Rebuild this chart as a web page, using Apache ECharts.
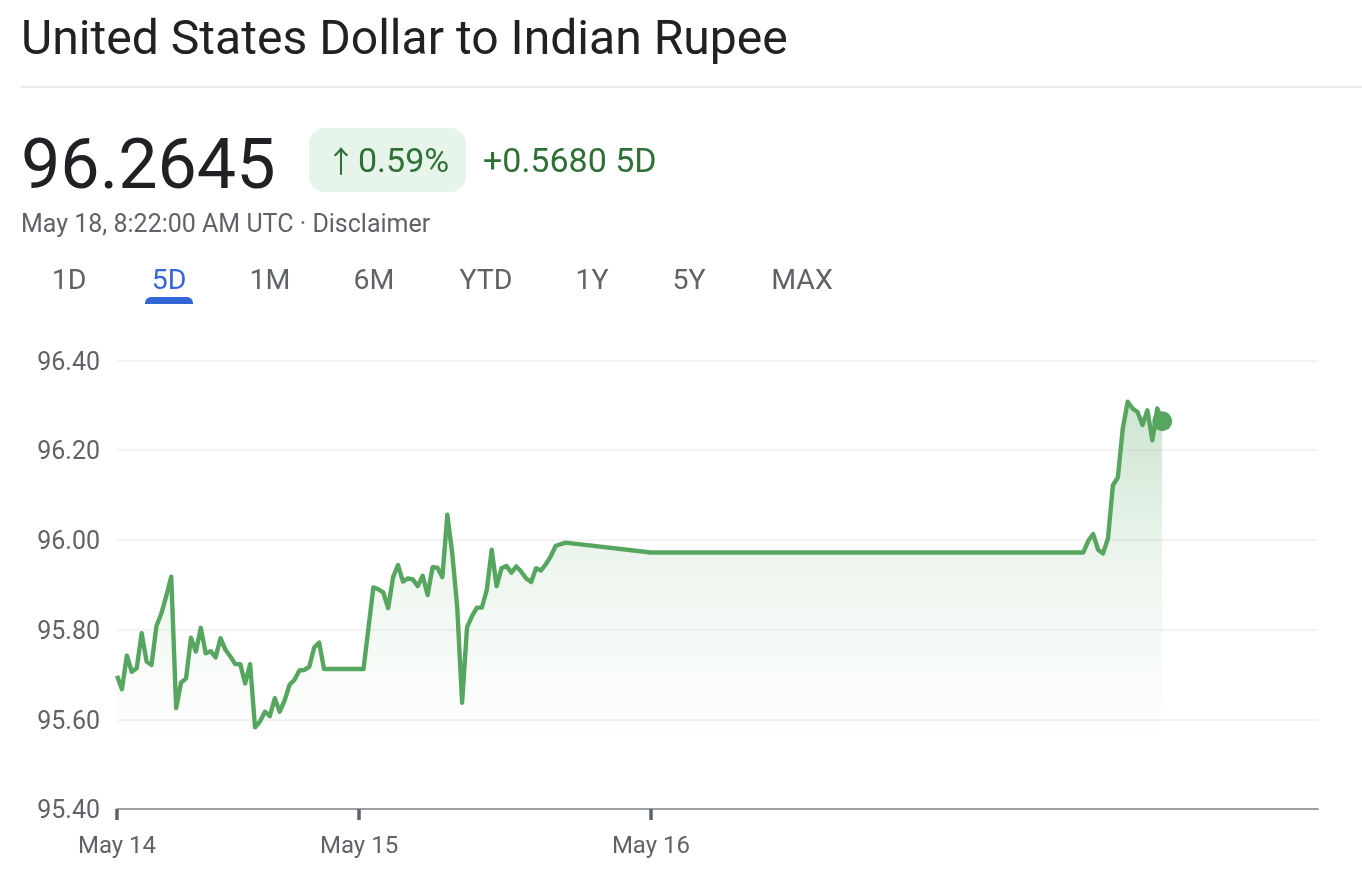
<!DOCTYPE html>
<html><head><meta charset="utf-8">
<script src="https://cdn.jsdelivr.net/npm/echarts@6/dist/echarts.min.js"></script>
<style>html,body{margin:0;padding:0;background:#fff}#c{width:1362px;height:882px}</style>
</head><body><div id="c"></div>
<script>
// x positions are sample numbers (markets closed between May 16 and the last run)
const sampleIndex = [0,1,2,3,4,5,6,7,8,9,10,11,12,13,14,15,16,17,18,19,20,21,22,23,24,25,26,27,28,29,30,31,32,33,34,35,36,37,38,39,40,41,42,50,51,52,53,54,55,56,57,58,59,60,61,62,63,64,65,66,67,68,69,70,71,72,73,74,75,76,77,78,79,80,81,82,83,84,85,86,87,88,89,91,108.3,196,197,198,199,200,201,202,203,204,205,206,207,208,209,210,211,212];
const rates = [95.697,95.667,95.742,95.706,95.714,95.792,95.729,95.721,95.808,95.836,95.875,95.918,95.625,95.682,95.691,95.782,95.751,95.804,95.747,95.752,95.738,95.781,95.755,95.74,95.723,95.723,95.68,95.723,95.582,95.595,95.617,95.607,95.647,95.617,95.642,95.677,95.688,95.709,95.71,95.717,95.76,95.771,95.712,95.712,95.803,95.894,95.89,95.883,95.848,95.917,95.944,95.907,95.914,95.912,95.897,95.92,95.877,95.939,95.938,95.917,96.056,95.97,95.851,95.637,95.805,95.83,95.849,95.849,95.888,95.978,95.897,95.937,95.942,95.927,95.941,95.929,95.914,95.906,95.937,95.932,95.946,95.964,95.987,95.994,95.972,95.972,95.998,96.013,95.978,95.97,96.003,96.122,96.139,96.248,96.308,96.293,96.285,96.256,96.289,96.222,96.293,96.2645];
const xTickPositions = [0,49.1,108.3];
const xTickLabels = ['May 14','May 15','May 16'];
const xMax = 243.6;
const yMin = 95.4, yMax = 96.4, yStep = 0.2;
const titleText = 'United States Dollar to Indian Rupee';
const priceText = '96.2645';
const arrowText = '↑';
const pctText = '0.59%';
const changeText = '+0.5680 5D';
const dateText = 'May 18, 8:22:00 AM UTC · Disclaimer';
const tabs = ['1D','5D','1M','6M','YTD','1Y','5Y','MAX'];
const tabCenters = [69,169,270,374,486,592,689,802];

const F = 'Roboto, sans-serif';
const gray = '#5f6368', green = '#2f7037', lineGreen = '#57a65f';
const pts = sampleIndex.map((x,i)=>[x,rates[i]]);
const txt = (text,x,y,size,fill,align,font) => ({type:'text',silent:true,x,y,style:{text,fontFamily:font||F,fontSize:size,fill,align:align||'left',verticalAlign:'middle'}});

const graphics = [
  txt(titleText,21,42,48.1,'#202124'),
  {type:'rect',silent:true,shape:{x:21,y:86,width:1341,height:2},style:{fill:'#e8eaed'}},
  txt(priceText,21,170,70,'#202124'),
  {type:'rect',silent:true,shape:{x:309,y:128,width:157,height:64,r:16},style:{fill:'#e6f4ea'}},
  txt(arrowText,341,161,30,green,'center','"Noto Sans CJK SC", sans-serif'),
  txt(pctText,358,163,34,green),
  txt(changeText,483,163,34,green),
  txt(dateText,21,226,25,gray),
  {type:'rect',silent:true,shape:{x:145,y:297,width:48,height:7,r:[6,6,0,0]},style:{fill:'#3367d6'}}
];
tabs.forEach((t,i)=>graphics.push(txt(t,tabCenters[i],282,28.5,i===1?'#3367d6':gray,'center')));

const chart = echarts.init(document.getElementById('c'),null,{renderer:'canvas'});
chart.setOption({
  animation:false,
  backgroundColor:'#fff',
  graphic:{elements:graphics},
  grid:{left:117,right:44,top:360.5,bottom:73,containLabel:false},
  xAxis:{
    type:'value',min:0,max:xMax,splitLine:{show:false},
    axisLine:{show:true,onZero:false,lineStyle:{color:'#9aa0a6',width:2}},
    axisTick:{show:true,customValues:xTickPositions,length:11,lineStyle:{color:gray,width:3.5}},
    axisLabel:{show:true,customValues:xTickPositions,margin:26,fontFamily:F,fontSize:24,color:gray,
      formatter:v=>xTickLabels[xTickPositions.indexOf(v)]}
  },
  yAxis:{
    type:'value',min:yMin,max:yMax,interval:yStep,
    axisLine:{show:false},axisTick:{show:false},
    axisLabel:{margin:17,fontFamily:F,fontSize:25,color:gray,verticalAlign:'top',lineHeight:6,formatter:v=>v.toFixed(2)},
    splitLine:{lineStyle:{color:'#f1f3f4',width:2}}
  },
  series:[
    {type:'line',data:pts,symbol:'none',smooth:false,z:3,
      lineStyle:{color:lineGreen,width:4.4,join:'round'},
      areaStyle:{origin:'start',color:new echarts.graphic.LinearGradient(0,0,0,1,[
        {offset:0,color:'rgba(76,160,88,0.40)'},
        {offset:0.4,color:'rgba(76,160,88,0.14)'},
        {offset:0.8,color:'rgba(76,160,88,0.012)'},
        {offset:0.85,color:'rgba(76,160,88,0)'}])}},
    {type:'scatter',data:[pts[pts.length-1]],symbol:'circle',symbolSize:20,z:4,itemStyle:{color:lineGreen,opacity:1}}
  ]
});
</script></body></html>
